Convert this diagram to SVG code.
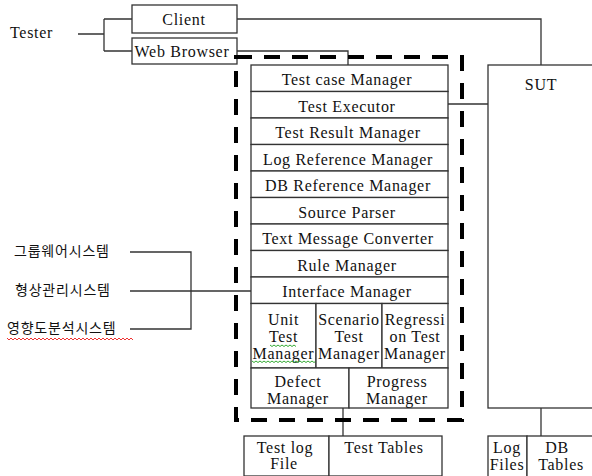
<svg xmlns="http://www.w3.org/2000/svg" width="592" height="476" viewBox="0 0 592 476">
<style>
.box{fill:#fff;stroke:#333;stroke-width:1.3}
.ln{fill:none;stroke:#333;stroke-width:1.3}
.t{font-family:"Liberation Serif","Times New Roman",serif;font-size:16px;letter-spacing:0.7px;fill:#111;text-anchor:middle}
.k{font-family:"Noto Sans CJK KR","Noto Sans",sans-serif;font-size:14px;fill:#111;letter-spacing:0.8px}
.dash{fill:none;stroke:#000;stroke-width:4;stroke-dasharray:16 12}
.sq{fill:none;stroke-width:1}
</style>
<rect width="592" height="476" fill="#fff"/>
<g id="connectors">
<path class="ln" d="M78 34H104M104 19V51M104 19H132M104 51H132"/>
<path class="ln" d="M237 19H541V65"/>
<path class="ln" d="M237 51H348V65"/>
<path class="ln" d="M448 104H488"/>
<path class="ln" d="M130 252H191V329H130M130 291H251"/>
<path class="ln" d="M343 408V436"/>
<path class="ln" d="M541 408V436"/>
</g>
<g id="tester"><text class="t" x="10" y="38" style="text-anchor:start">Tester</text></g>
<g id="client"><rect class="box" x="132" y="5" width="105" height="28"/><text class="t" x="184" y="25">Client</text></g>
<g id="web-browser"><rect class="box" x="132" y="38" width="105" height="26"/><text class="t" x="182" y="57">Web Browser</text></g>
<g id="groupware"><text class="k" x="14" y="256">그룹웨어시스템</text></g>
<g id="config-mgmt"><text class="k" x="15" y="295">형상관리시스템</text></g>
<g id="impact-analysis"><text class="k" x="7" y="333">영향도분석시스템</text>
<path class="sq" stroke="#e33" d="M7 338l2 2 2-2 2 2 2-2 2 2 2-2 2 2 2-2 2 2 2-2 2 2 2-2 2 2 2-2 2 2 2-2 2 2 2-2 2 2 2-2 2 2 2-2 2 2 2-2 2 2 2-2 2 2 2-2 2 2 2-2 2 2 2-2 2 2 2-2 2 2 2-2 2 2 2-2 2 2 2-2 2 2 2-2 2 2 2-2 2 2 2-2 2 2 2-2 2 2 2-2 2 2 2-2 2 2 2-2 2 2 2-2 2 2 2-2 2 2 2-2 2 2 2-2 2 2"/></g>
<g id="tool-boundary"><rect class="dash" x="236" y="57" width="226" height="363"/></g>
<g id="test-case-manager"><rect class="box" x="251" y="65" width="197" height="26.5"/><text class="t" x="347" y="85">Test case Manager</text></g>
<g id="test-executor"><rect class="box" x="251" y="91.5" width="197" height="26.5"/><text class="t" x="347" y="111.5">Test Executor</text></g>
<g id="test-result-manager"><rect class="box" x="251" y="118" width="197" height="26.5"/><text class="t" x="348" y="138">Test Result Manager</text></g>
<g id="log-reference-manager"><rect class="box" x="251" y="144.5" width="197" height="26.5"/><text class="t" x="348" y="164.5">Log Reference Manager</text></g>
<g id="db-reference-manager"><rect class="box" x="251" y="171" width="197" height="26.5"/><text class="t" x="348" y="191">DB Reference Manager</text></g>
<g id="source-parser"><rect class="box" x="251" y="197.5" width="197" height="26.5"/><text class="t" x="347" y="217.5">Source Parser</text></g>
<g id="text-message-converter"><rect class="box" x="251" y="224" width="197" height="26.5"/><text class="t" x="348" y="244">Text Message Converter</text></g>
<g id="rule-manager"><rect class="box" x="251" y="250.5" width="197" height="26.5"/><text class="t" x="347" y="270.5">Rule Manager</text></g>
<g id="interface-manager"><rect class="box" x="251" y="277" width="197" height="26.5"/><text class="t" x="347" y="297">Interface Manager</text></g>
<g id="unit-test-manager"><rect class="box" x="251" y="303.5" width="65" height="64.5"/><text class="t" x="283.5" y="324.5">Unit</text><text class="t" x="283.5" y="341.5">Test</text><text class="t" x="283.5" y="358.5">Manager</text>
<path class="sq" stroke="#3a3" d="M270 345l2 1.5 2-1.5 2 1.5 2-1.5 2 1.5 2-1.5 2 1.5 2-1.5 2 1.5 2-1.5 2 1.5 2-1.5 2 1.5M252 361l2 1.5 2-1.5 2 1.5 2-1.5 2 1.5 2-1.5 2 1.5 2-1.5 2 1.5 2-1.5 2 1.5 2-1.5 2 1.5 2-1.5 2 1.5 2-1.5 2 1.5 2-1.5 2 1.5 2-1.5 2 1.5 2-1.5 2 1.5 2-1.5 2 1.5 2-1.5 2 1.5 2-1.5 2 1.5 2-1.5 2 1.5 2-1.5"/></g>
<g id="scenario-test-manager"><rect class="box" x="316" y="303.5" width="66" height="64.5"/><text class="t" x="349" y="324.5">Scenario</text><text class="t" x="349" y="341.5">Test</text><text class="t" x="349" y="358.5">Manager</text></g>
<g id="regression-test-manager"><rect class="box" x="382" y="303.5" width="66" height="64.5"/><text class="t" x="415" y="324.5">Regressi</text><text class="t" x="415" y="341.5">on Test</text><text class="t" x="415" y="358.5">Manager</text></g>
<g id="defect-manager"><rect class="box" x="251" y="368" width="98" height="40"/><text class="t" x="298" y="386.5">Defect</text><text class="t" x="298" y="403.5">Manager</text></g>
<g id="progress-manager"><rect class="box" x="349" y="368" width="99" height="40"/><text class="t" x="397" y="386.5">Progress</text><text class="t" x="397" y="403.5">Manager</text></g>
<g id="test-log-file"><rect class="box" x="244" y="436" width="85" height="40"/><text class="t" x="285" y="453">Test log</text><text class="t" x="284" y="469">File</text></g>
<g id="test-tables"><rect class="box" x="329" y="436" width="113" height="40"/><text class="t" x="384" y="453">Test Tables</text></g>
<g id="sut"><rect class="box" x="488" y="65" width="120" height="343"/><text class="t" x="541" y="90">SUT</text></g>
<g id="log-files"><rect class="box" x="488" y="436" width="39" height="42"/><text class="t" x="507" y="453">Log</text><text class="t" x="507" y="470">Files</text></g>
<g id="db-tables"><rect class="box" x="527" y="436" width="80" height="42"/><text class="t" x="557" y="453">DB</text><text class="t" x="561" y="470">Tables</text></g>
</svg>
